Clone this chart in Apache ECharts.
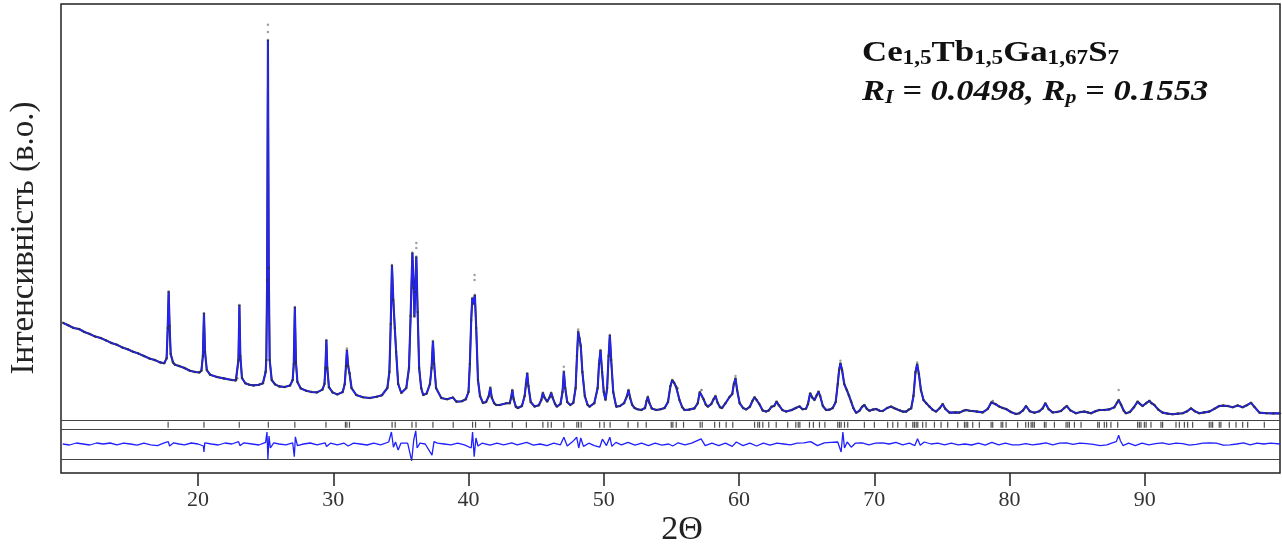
<!DOCTYPE html>
<html>
<head>
<meta charset="utf-8">
<script src="https://cdn.jsdelivr.net/npm/echarts/dist/echarts.min.js"></script>
<style>
html,body{margin:0;padding:0;background:#fff;}
#chart{width:1282px;height:544px;}
</style>
</head>
<body>
<div id="chart"></div>
<script>
// x-axis tick labels (2Θ)
const xTickValues = [20, 30, 40, 50, 60, 70, 80, 90];

// calculated profile [2Θ, intensity (a.u.)]
const calcProfile = [
[10.0,2430],[10.4,2370],[10.8,2300],[11.2,2275],[11.6,2200],[12.0,2150],[12.4,2085],[12.8,2050],[13.2,1990],[13.6,1925],[14.0,1880],[14.4,1815],[14.8,1770],[15.2,1705],[15.6,1660],[16.0,1600],[16.4,1540],[16.8,1500],[17.2,1440],[17.5,1420],
[17.68,1540],[17.76,2300],[17.83,3210],[17.9,2350],[17.98,1650],[18.15,1440],[18.3,1380],[18.6,1350],[19.0,1300],[19.4,1230],[19.8,1200],[20.1,1190],
[20.25,1230],[20.36,1600],[20.44,2670],[20.52,1700],[20.65,1250],[20.9,1130],[21.4,1075],[21.9,1040],[22.5,1000],[22.8,990],
[22.9,1040],[22.99,1500],[23.06,2875],[23.13,1600],[23.25,1050],[23.5,920],[23.8,880],[24.1,865],[24.5,880],[24.8,920],[25.0,1200],
[25.05,1500],[25.11,3500],[25.17,9500],[25.23,3800],[25.3,1500],[25.45,1000],[25.7,890],[26.0,840],[26.4,825],[26.8,860],[27.0,1000],
[27.08,1400],[27.16,2825],[27.24,1450],[27.35,950],[27.6,790],[28.0,730],[28.4,700],[28.8,690],[29.2,760],
[29.35,900],[29.42,1300],[29.49,2000],[29.56,1300],[29.68,820],[29.95,690],[30.3,640],[30.7,700],
[30.85,900],[30.94,1350],[31.01,1750],[31.1,1350],[31.2,1175],[31.35,800],[31.7,625],[32.2,570],[32.7,550],[33.2,580],[33.6,620],[34.0,800],
[34.15,1200],[34.25,2400],[34.34,3875],[34.44,3000],[34.55,2300],[34.65,1700],[34.8,900],[35.03,675],[35.4,800],
[35.6,1300],[35.72,2600],[35.85,4180],[35.95,3300],[36.0,2580],[36.06,3200],[36.14,4080],[36.24,2700],[36.35,1300],[36.5,800],[36.65,625],[36.9,660],[37.15,900],
[37.27,1300],[37.37,1975],[37.46,1400],[37.6,800],[37.99,550],[38.4,520],[38.85,560],[39.1,460],[39.5,470],[39.8,520],[40.0,700],
[40.1,1400],[40.2,2500],[40.28,3050],[40.36,2900],[40.47,3125],[40.57,2300],[40.7,1000],[40.85,600],[41.07,425],[41.3,450],
[41.5,600],[41.61,810],[41.72,560],[41.9,420],[42.05,375],[42.3,375],[42.8,420],[43.05,420],
[43.15,560],[43.24,750],[43.34,520],[43.5,330],[43.65,300],[43.95,350],[44.15,600],
[44.25,900],[44.34,1170],[44.43,850],[44.6,450],[44.89,335],[45.2,370],[45.38,500],
[45.5,680],[45.62,560],[45.82,460],[46.0,570],[46.11,680],[46.22,560],[46.4,400],[46.53,335],[46.8,400],[46.95,700],
[47.05,1210],[47.15,800],[47.3,450],[47.52,375],[47.75,430],[47.92,800],[48.02,1600],
[48.11,2210],[48.2,2050],[48.3,1850],[48.42,1200],[48.6,600],[48.8,380],[48.95,335],[49.3,420],[49.55,800],[49.65,1400],
[49.76,1750],[49.88,1200],[50.0,700],[50.13,500],[50.25,800],[50.36,1600],[50.45,2125],[50.55,1500],[50.7,700],[50.92,335],[51.2,350],[51.5,420],[51.72,600],
[51.83,750],[51.95,550],[52.1,380],[52.28,300],[52.5,270],[52.77,250],[53.05,300],[53.17,480],
[53.26,580],[53.37,430],[53.55,290],[53.88,250],[54.2,270],[54.5,300],[54.75,450],[54.93,850],
[55.06,1000],[55.2,930],[55.35,830],[55.45,790],[55.6,500],[55.8,320],[55.97,250],[56.3,260],[56.7,290],[56.95,420],[57.1,700],
[57.23,750],[57.38,520],[57.55,380],[57.7,335],[57.95,400],[58.12,520],
[58.26,600],[58.42,430],[58.6,320],[58.75,300],[59.0,420],[59.3,575],[59.5,650],[59.62,900],
[59.74,1040],[59.86,750],[60.05,420],[60.3,300],[60.53,265],[60.8,330],[61.0,480],
[61.15,570],[61.3,500],[61.5,400],[61.75,240],[62.0,210],[62.2,240],[62.4,330],
[62.6,350],[62.78,460],[62.95,370],[63.2,250],[63.48,210],[63.9,250],[64.2,300],[64.47,340],[64.7,270],[64.95,280],[65.1,400],
[65.26,670],[65.42,560],[65.58,500],[65.75,620],[65.88,710],[66.0,600],[66.2,350],[66.44,250],[66.7,260],[66.93,300],[67.15,450],[67.3,900],
[67.4,1250],[67.5,1420],[67.62,1250],[67.78,900],[67.97,750],[68.12,620],[68.29,460],[68.45,300],[68.66,180],[68.9,230],[69.1,330],
[69.27,375],[69.45,280],[69.65,230],[69.9,260],[70.14,275],[70.4,230],[70.63,225],[70.95,300],[71.25,335],[71.45,300],[71.62,275],[71.9,240],[72.1,210],[72.36,210],[72.55,260],[72.73,290],[72.9,600],
[73.05,1200],[73.17,1400],[73.3,1150],[73.45,750],[73.64,500],[73.85,420],[74.08,335],[74.3,260],[74.57,210],[74.85,300],
[75.06,400],[75.25,280],[75.56,185],[76.0,190],[76.3,185],[76.6,230],[76.79,250],[77.05,230],[77.28,225],[77.6,210],[78.02,190],[78.4,280],
[78.65,440],[78.76,475],[78.95,400],[79.25,335],[79.5,300],[79.75,275],[80.1,200],[80.48,150],[80.73,170],[81.0,240],
[81.22,350],[81.5,220],[81.84,180],[82.2,220],[82.45,290],[82.65,420],[82.9,270],[83.19,190],[83.5,200],[83.81,225],[84.05,300],
[84.23,350],[84.5,240],[84.92,170],[85.25,200],[85.53,210],[85.8,190],[86.03,170],[86.35,220],[86.64,250],[87.0,250],[87.38,265],[87.75,320],
[87.95,430],[88.07,500],[88.25,380],[88.45,230],[88.61,170],[88.9,200],[89.2,320],
[89.47,460],[89.65,400],[89.84,350],[90.1,420],[90.34,480],[90.5,420],[90.71,375],[91.0,260],[91.32,185],[91.7,160],[92.06,145],[92.45,160],[92.8,170],[93.1,210],
[93.42,290],[93.7,220],[94.03,170],[94.4,190],[94.77,210],[95.15,280],[95.51,350],[95.8,360],[96.13,350],[96.5,320],[96.87,365],[97.24,320],[97.55,370],
[97.86,430],[98.1,330],[98.48,185],[99.0,170],[99.5,165],[100.0,165]
];

// observed points that stand above the calculated peaks
const obsPeakTops = [
[25.17,9700],[25.17,9880],[31.01,1790],[36.14,4300],[36.14,4425],[40.45,3500],[40.45,3625],
[47.05,1330],[48.11,2260],[59.74,1100],[67.5,1480],[73.17,1440],[88.07,750]
];

// difference curve (obs - calc) [2Θ, residual]
const diffResidual = [
[10,0],[10.5,-25],[11,25],[11.5,0],[12,-25],[12.5,25],[13,0],[13.5,25],[14,-20],[14.5,20],[15,0],[15.5,-30],[16,20],[16.5,-20],[17,-40],[17.5,30],[17.8,60],[17.9,-50],[18.2,30],[18.6,0],[19,-20],[19.5,25],[20,0],[20.4,-50],[20.44,-200],[20.5,30],[21,0],[21.5,-25],[22,25],[22.5,0],[23,60],[23.1,-40],[23.4,30],[24,0],[24.5,-25],
[25.0,40],[25.1,300],[25.17,-380],[25.25,200],[25.35,-100],[25.6,30],[26,0],[26.5,-20],[27.0,30],[27.12,-320],[27.2,180],[27.35,-40],[27.8,0],[28.3,25],[28.8,-20],[29.4,30],[29.5,-60],[29.8,20],[30.3,-20],[30.8,20],[31.1,-50],[31.5,20],[32,0],[32.5,-25],[33,20],[33.5,-20],
[34.1,50],[34.3,300],[34.45,-80],[34.6,50],[34.8,-150],[35.0,20],[35.5,20],[35.8,-420],[35.95,100],[36.1,330],[36.2,-100],[36.4,20],[36.8,0],[37.3,-280],[37.45,60],[37.7,20],[38.2,0],[38.7,-20],[39.2,20],[39.7,-20],
[40.2,-100],[40.3,300],[40.42,-320],[40.55,150],[40.7,-50],[41,20],[41.6,-30],[42.1,20],[42.6,-20],[43.2,30],[43.6,-20],[44.3,40],[44.8,-30],[45.3,0],[45.8,-40],[46.3,20],[46.8,-20],
[47.05,170],[47.3,-50],[47.7,60],[48.0,170],[48.15,-100],[48.3,150],[48.5,-60],[48.9,20],[49.3,-40],[49.7,-80],[49.9,120],[50.2,-40],[50.45,170],[50.6,-60],[50.9,40],[51.3,-20],[51.8,40],[52.3,-30],[52.8,20],[53.3,-40],[53.8,20],[54.3,-30],[54.8,0],[55.1,-50],[55.5,30],[56,-20],[56.5,20],
[57.2,130],[57.5,-40],[58,20],[58.5,-40],[59,20],[59.5,-60],[59.8,50],[60.3,-40],[60.8,20],[61.3,-50],[61.8,20],[62.3,-30],[62.8,20],[63.3,0],[63.8,-20],[64.3,20],[64.8,30],[65.3,60],[65.8,-40],[66.3,30],[66.8,40],
[67.3,50],[67.55,-200],[67.68,300],[67.8,-100],[68.0,50],[68.3,-80],[68.6,20],[69.1,30],[69.6,-20],[70.1,20],[70.6,30],[71.1,0],[71.6,40],[72.1,-20],[72.6,20],[73.0,-40],[73.2,130],[73.4,-30],[73.7,50],[74.2,0],[74.7,20],[75.2,-20],[75.7,20],[76.2,-20],[76.7,0],[77.2,-25],[77.7,20],[78.2,-30],[78.7,40],[79.2,-20],[79.7,20],
[80.2,-20],[80.7,-20],[81.2,10],[81.7,-20],[82.2,0],[82.7,30],[83.2,-20],[83.7,20],[84.2,30],[84.7,-10],[85.2,20],[85.7,10],[86.2,-10],[86.7,-40],[87.2,-20],[87.6,30],[87.9,60],[88.07,220],[88.2,80],[88.4,-40],[88.8,20],[89.3,-40],[89.8,20],
[90.3,-20],[90.8,10],[91.3,30],[91.8,-10],[92.3,20],[92.8,10],[93.3,-30],[93.8,-10],[94.3,20],[94.8,30],[95.3,20],[95.8,-30],[96.3,-20],[96.8,0],[97.3,30],[97.8,-20],[98.3,20],[98.8,0],[99.3,20],[100,0]
];

// Bragg reflection positions (2Θ)
const braggPositions = [
17.79,20.44,23.05,25.2,27.16,29.46,30.9,31.01,31.2,34.35,34.58,35.82,36.12,37.37,38.87,40.3,40.52,41.57,43.24,44.28,
45.5,45.87,46.12,47.05,48.01,48.14,48.33,49.7,50.03,50.47,51.8,52.52,53.14,54.99,55.11,55.36,55.9,57.13,57.28,58.2,
58.56,59.05,59.54,61.15,61.39,61.52,61.76,62.2,62.75,63.6,64.2,64.38,64.5,65.21,65.5,65.95,66.35,67.3,67.43,67.55,
67.8,68.04,69.27,70.01,70.99,71.37,71.74,72.36,72.85,72.97,73.1,73.22,73.58,73.83,74.45,74.94,75.43,76.17,76.67,76.79,
76.91,77.28,77.77,78.64,78.76,79.38,79.5,79.75,80.6,81.2,81.4,81.6,81.72,81.84,82.58,82.7,83.32,84.18,84.31,84.43,84.8,
85.29,86.52,86.64,87.01,87.18,87.5,88.0,89.47,89.6,89.72,89.97,90.1,90.46,91.2,91.32,92.31,92.56,92.93,93.17,93.54,
94.77,94.9,95.02,95.51,95.63,96.25,96.75,97.24,97.61,98.84
];

const DIFF_OFFSET = -600;      // baseline of difference curve
const TICK_ROW = -118;         // row of Bragg markers
const serif = '"Liberation Serif", "Times New Roman", serif';

const chart = echarts.init(document.getElementById('chart'), null, {renderer: 'canvas'});
chart.setOption({
  animation: false,
  backgroundColor: '#fff',
  grid: {left: 61, right: 2, top: 4, bottom: 71, show: true, borderColor: '#222', borderWidth: 1.5, backgroundColor: 'transparent'},
  xAxis: {
    type: 'value', min: 9.87, max: 100,
    axisLine: {show: false, onZero: false},
    splitLine: {show: false},
    axisTick: {show: true, customValues: xTickValues, length: 13, inside: false, lineStyle: {color: '#222', width: 1.5}},
    axisLabel: {customValues: xTickValues, fontFamily: serif, fontSize: 22, color: '#333', margin: 16}
  },
  yAxis: {type: 'value', min: -1325, max: 10400, show: false, splitLine: {show: false}},
  graphic: [
    {type: 'text', x: 24, y: 238, rotation: Math.PI / 2,
     style: {text: 'Інтенсивність (в.о.)', fontFamily: serif, fontSize: 33, fill: '#222', align: 'center', verticalAlign: 'middle'}},
    {type: 'text', x: 682, y: 530,
     style: {text: '2Θ', fontFamily: serif, fontSize: 34, fill: '#222', align: 'center', verticalAlign: 'middle'}},
    {type: 'text', x: 862, y: 37, scaleX: 1.16,
     style: {
       text: '{m|Ce}{s|1,5}{m|Tb}{s|1,5}{m|Ga}{s|1,67}{m|S}{s|7}',
       align: 'left', verticalAlign: 'top',
       rich: {
         m: {fontFamily: serif, fontSize: 30, fontWeight: 'bold', fill: '#111', lineHeight: 32, verticalAlign: 'middle'},
         s: {fontFamily: serif, fontSize: 20, fontWeight: 'bold', fill: '#111', lineHeight: 18, verticalAlign: 'bottom'}
       }
     }},
    {type: 'text', x: 862, y: 76, scaleX: 1.15,
     style: {
       text: '{m|R}{s|I}{m| = 0.0498, R}{s|p}{m| = 0.1553}',
       align: 'left', verticalAlign: 'top',
       rich: {
         m: {fontFamily: serif, fontSize: 30, fontWeight: 'bold', fontStyle: 'italic', fill: '#111', lineHeight: 32, verticalAlign: 'middle'},
         s: {fontFamily: serif, fontSize: 19, fontWeight: 'bold', fontStyle: 'italic', fill: '#111', lineHeight: 18, verticalAlign: 'bottom'}
       }
     }}
  ],
  series: [
    {
      name: 'obsLine', type: 'line', data: calcProfile, showSymbol: false, z: 2,
      lineStyle: {color: '#2a2a2a', width: 2.1}
    },
    {
      name: 'calc', type: 'line', data: calcProfile, showSymbol: false, z: 3,
      lineStyle: {color: '#2323ff', width: 1.6}
    },
    {
      name: 'obs', type: 'scatter', data: calcProfile, symbolSize: 2.6, z: 4,
      itemStyle: {color: 'rgba(45,45,45,0.75)'}
    },
    {
      name: 'obsTops', type: 'scatter', data: obsPeakTops, symbolSize: 2.5, z: 4,
      itemStyle: {color: '#888'}
    },
    {
      name: 'diff', type: 'line', showSymbol: false, z: 3,
      data: diffResidual.map(p => [p[0], p[1] + DIFF_OFFSET]),
      lineStyle: {color: '#2020ff', width: 1.3}
    },
    {
      name: 'bragg', type: 'scatter', z: 3,
      data: braggPositions.map(x => [x, TICK_ROW]),
      symbol: 'rect', symbolSize: [1.2, 6],
      itemStyle: {color: '#222'},
      markLine: {
        silent: true, symbol: ['none', 'none'], label: {show: false},
        lineStyle: {color: '#444', width: 1.2, type: 'solid'},
        data: [{yAxis: 0}, {yAxis: -237.5}, {yAxis: -975}]
      }
    }
  ]
});
</script>
</body>
</html>
